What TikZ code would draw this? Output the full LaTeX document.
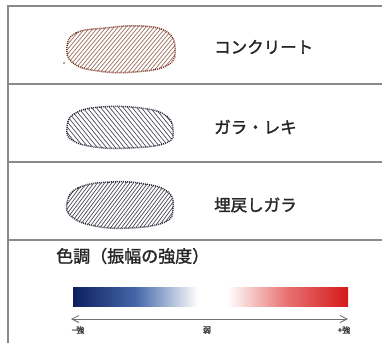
\documentclass[tikz,border=0pt]{standalone}
\usepackage{fontspec}
\newfontfamily\jp[FakeBold=1.6]{Noto Sans CJK JP}
\newfontfamily\jpsmall[FakeBold=2.5]{Noto Sans CJK JP}
\usetikzlibrary{arrows.meta}
\definecolor{frame}{HTML}{8A8A8A}
\definecolor{brownln}{HTML}{7E3424}
\definecolor{brownht}{HTML}{9A7060}
\definecolor{grayln}{HTML}{2A2A38}
\definecolor{grayht}{HTML}{4A4A55}
\definecolor{navy}{HTML}{0E1F5E}
\definecolor{midblue}{HTML}{4467A8}
\definecolor{redend}{HTML}{D41A1A}
\definecolor{midred}{HTML}{E87070}
\tikzset{
  frameline/.style={draw=frame, line width=1.1pt},
  blobline/.style={line width=1.5pt, dash pattern=on 1pt off 1pt},
  label/.style={font=\jp\fontsize{16.5}{16.5}\selectfont, anchor=west, text=black!85, inner sep=0pt},
  small/.style={font=\jpsmall\fontsize{8}{8}\selectfont, text=black!75},
}
\begin{document}
\begin{tikzpicture}[x=1pt,y=-1pt]
\useasboundingbox (0,0) rectangle (382,343);
% frame
\draw[frameline] (382,6) -- (8,6) -- (8,343);
\draw[frameline] (8,84) -- (382,84);
\draw[frameline] (8,162) -- (382,162);
\draw[frameline] (8,240) -- (382,240);
% blob 1
\def\blobA{plot[smooth cycle, tension=0.75] coordinates {(67,47) (76,33) (105,28) (142,26) (167,32) (175,48) (168,65) (135,72) (98,71) (73,63)}}
\begin{scope}
\clip \blobA;
\foreach \i in {0,4,...,200} \draw[brownht, line width=0.7pt] (\i-10,80) -- (\i+40,20);
\end{scope}
\draw[brownln, blobline] \blobA;
\fill[brownln] (64,63) circle (0.8);
% blob 2
\def\blobB{plot[smooth cycle, tension=0.75] coordinates {(67,128) (74,114) (100,107) (140,108) (165,115) (173,130) (166,143) (130,148) (95,147) (72,140)}}
\begin{scope}
\clip \blobB;
\foreach \i in {0,4.5,...,200} \draw[grayht, line width=0.7pt] (\i,100) -- (\i+45,155);
\end{scope}
\draw[grayln, blobline] \blobB;
% blob 3
\def\blobC{plot[smooth cycle, tension=0.75] coordinates {(67,203) (78,188) (110,182) (145,184) (168,192) (173,208) (165,222) (130,228) (95,226) (72,217)}}
\begin{scope}
\clip \blobC;
\foreach \i in {0,3.6,...,200} \draw[grayht, line width=0.7pt] (\i-10,235) -- (\i+35,175);
\end{scope}
\draw[grayln, blobline] \blobC;
% labels
\node[label] (t1) at (214,47) {コンクリート};
\node[label] (t2) at (214,127) {ガラ・レキ};
\node[label] (t3) at (214,205) {埋戻しガラ};
\node[font=\jp\fontsize{17}{17}\selectfont, anchor=west, text=black!85, inner sep=0pt] (title) at (56,256) {色調（振幅の強度）};
% color bars
\shade[left color=navy, right color=white, middle color=midblue] (73,287) rectangle (198,306);
\shade[left color=white, right color=redend, middle color=midred] (227,287) rectangle (348,306);
% arrow
\coordinate (al) at (71,319);
\coordinate (ar) at (348,319);
\draw[frame!80!black, line width=0.8pt, {Straight Barb[length=7pt,width=7pt]}-{Straight Barb[length=7pt,width=7pt]}] (al) -- (ar);
\node[small] (m) at (78,330) {−強};
\node[small] (w) at (207,330) {弱};
\node[small] (p) at (344,330) {+強};
\end{tikzpicture}
\end{document}
